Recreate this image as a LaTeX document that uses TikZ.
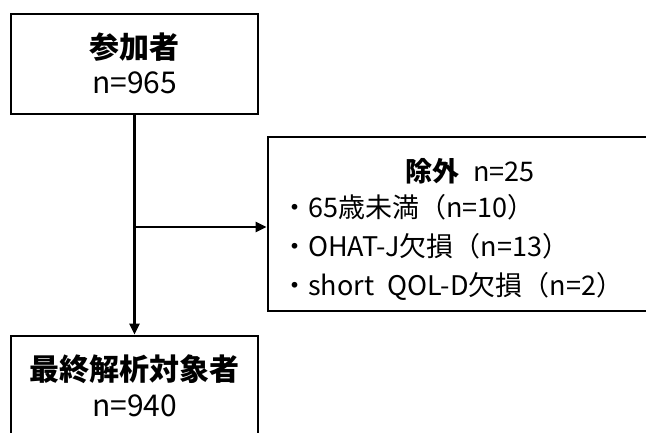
\documentclass[tikz,border=0pt]{standalone}
\usepackage{fontspec}
\setmainfont{Noto Sans CJK JP}
\usetikzlibrary{arrows.meta}
\begin{document}
\begin{tikzpicture}[x=1pt,y=-1pt,
  box/.style={draw,line width=2.8pt,inner sep=0pt},
  conn/.style={line width=2.8pt,-{Triangle[length=11pt,width=10pt]}},
  big/.style={font={\fontsize{30pt}{36pt}\selectfont},inner sep=0pt},
  bigb/.style={font={\fontsize{30pt}{36pt}\selectfont\bfseries},inner sep=0pt},
  small/.style={font={\fontsize{27pt}{32pt}\selectfont},inner sep=0pt,anchor=base west},
  smallc/.style={font={\fontsize{27pt}{32pt}\selectfont},inner sep=0pt,anchor=base}]
\useasboundingbox (0,0) rectangle (646,432);
\clip (0,0) rectangle (646,432);
\node[box,minimum width=247pt,minimum height=100pt] (top) at (134.5,64) {};
\node[box,minimum width=247pt,minimum height=144pt] (bot) at (134.5,408) {};
\node[box,minimum width=452pt,minimum height=174pt] (rb) at (494,224) {};
\draw[conn] (top.south) -- (bot.north);
\coordinate (br) at (134.5,227);
\draw[conn] (br) -- (br -| rb.west);
\node[bigb] (t1) at (134.5,47.5) {参加者};
\node[big] (t2) at (134.5,82.5) {n=965};
\node[bigb] (b1) at (134.5,369) {最終解析対象者};
\node[big] (b2) at (134.5,406) {n=940};
\node[smallc] (r1) at (470,181) {\textbf{除外}\hspace{0.5em}n=25};
\node[small] (r2) at (281,217) {・65歳未満（n=10）};
\node[small] (r3) at (281,256) {・OHAT-J欠損（n=13）};
\node[small] (r4) at (281,295) {・short\hspace{0.5em}QOL-D欠損（n=2）};
\end{tikzpicture}
\end{document}
